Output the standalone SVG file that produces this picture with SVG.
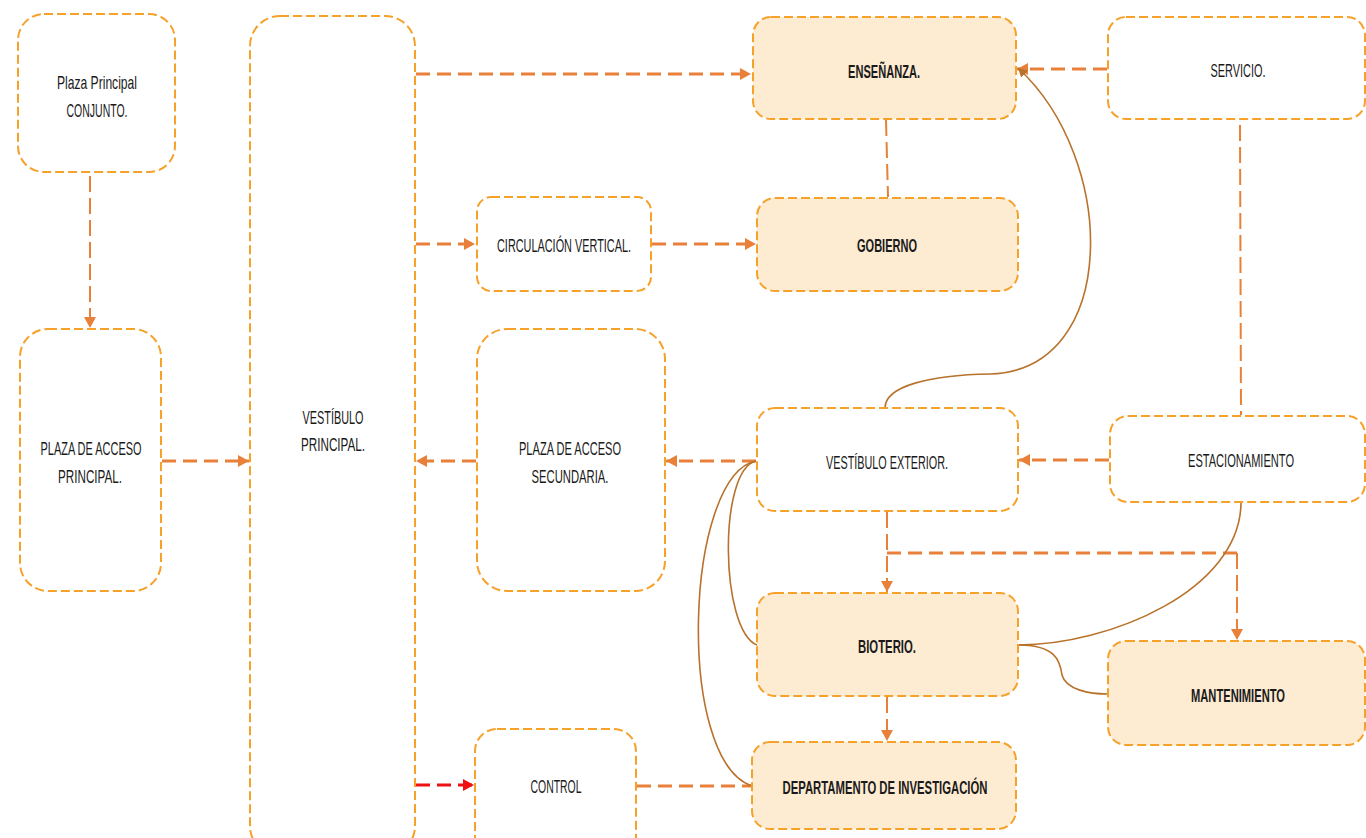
<svg xmlns="http://www.w3.org/2000/svg" width="1366" height="838" viewBox="0 0 1366 838">
<style>
.n{fill:#ffffff;stroke:#F5A12A;stroke-width:2;stroke-dasharray:9 4}
.h{fill:#FDEBD2}
.t{font-family:"Liberation Sans",Arial,sans-serif;font-size:19px;fill:#1a1a1a;text-anchor:middle}
.b{font-weight:bold}
.c{fill:none;stroke:#E8803A;stroke-width:3;stroke-dasharray:14 7}
.ct{fill:none;stroke:#E8803A;stroke-width:2;stroke-dasharray:16 6}
.r{fill:none;stroke:#EE1111;stroke-width:3;stroke-dasharray:14 7}
.cv{fill:none;stroke:#B8722C;stroke-width:1.6}
</style>
<defs>
<marker id="a" markerUnits="userSpaceOnUse" markerWidth="12" markerHeight="12" refX="11" refY="6" orient="auto"><path d="M0,0 L11,6 L0,12 z" fill="#E8803A"/></marker>
<marker id="ar" markerUnits="userSpaceOnUse" markerWidth="12" markerHeight="12" refX="11" refY="6" orient="auto"><path d="M0,0 L11,6 L0,12 z" fill="#EE1111"/></marker>
<marker id="ab" markerUnits="userSpaceOnUse" markerWidth="10" markerHeight="10" refX="9" refY="5" orient="auto"><path d="M0,0 L9,5 L0,10 z" fill="#B8722C"/></marker>
</defs>
<rect width="1366" height="838" fill="#ffffff"/>

<g id="connectors">
<path class="ct" d="M90,176 L90,328" marker-end="url(#a)"/>
<path class="c" d="M162,461 L249,461" marker-end="url(#a)"/>
<path class="c" d="M416,74 L751,74" marker-end="url(#a)"/>
<path class="c" d="M416,244 L475,244" marker-end="url(#a)"/>
<path class="c" d="M652,244 L756,244" marker-end="url(#a)"/>
<path class="ct" d="M886,120 L888,197"/>
<path class="c" d="M1107,69 L1017,69" marker-end="url(#a)"/>
<path class="ct" d="M1240,125 L1241,415"/>
<path class="c" d="M1109,460 L1019,460" marker-end="url(#a)"/>
<path class="c" d="M756,461 L666,461" marker-end="url(#a)"/>
<path class="c" d="M476,461 L416,461" marker-end="url(#a)"/>
<path class="ct" d="M887,512 L887,592" marker-end="url(#a)"/>
<path class="c" d="M887,553 L1237,553"/>
<path class="ct" d="M1237,553 L1237,640" marker-end="url(#a)"/>
<path class="ct" d="M887,697 L887,741" marker-end="url(#a)"/>
<path class="r" d="M416,785 L474,785" marker-end="url(#ar)"/>
<path class="c" d="M637,786 L752,786"/>
<path class="cv" d="M885,408 C885,386 930,375 990,374 C1120,370 1118,160 1018,68" marker-end="url(#ab)"/>
<path class="cv" d="M756,461 C718,470 720,630 757,645"/>
<path class="cv" d="M756,461 C685,475 675,760 752,786"/>
<path class="cv" d="M1241,503 C1240,590 1110,645 1018,645"/>
<path class="cv" d="M1018,645 C1055,645 1060,660 1062,675 C1066,690 1090,694 1108,694"/>
</g>

<g id="plaza-principal-conjunto">
<rect class="n" x="18" y="14" width="157" height="158" rx="26"/>
<text class="t" x="97" y="89" textLength="80" lengthAdjust="spacingAndGlyphs">Plaza Principal</text>
<text class="t" x="97" y="117" textLength="61" lengthAdjust="spacingAndGlyphs">CONJUNTO.</text>
</g>
<g id="vestibulo-principal">
<rect class="n" x="250" y="16" width="165" height="840" rx="30"/>
<text class="t" x="333" y="424" textLength="61" lengthAdjust="spacingAndGlyphs">VESTÍBULO</text>
<text class="t" x="333" y="451" textLength="64" lengthAdjust="spacingAndGlyphs">PRINCIPAL.</text>
</g>
<g id="plaza-acceso-principal">
<rect class="n" x="20" y="329" width="141" height="262" rx="28"/>
<text class="t" x="91" y="455" textLength="101" lengthAdjust="spacingAndGlyphs">PLAZA DE ACCESO</text>
<text class="t" x="90" y="483" textLength="64" lengthAdjust="spacingAndGlyphs">PRINCIPAL.</text>
</g>
<g id="ensenanza">
<rect class="n h" x="753" y="17" width="263" height="102" rx="18"/>
<text class="t b" x="884" y="78" textLength="72" lengthAdjust="spacingAndGlyphs">ENSEÑANZA.</text>
</g>
<g id="servicio">
<rect class="n" x="1108" y="17" width="257" height="102" rx="18"/>
<text class="t" x="1238" y="77" textLength="55" lengthAdjust="spacingAndGlyphs">SERVICIO.</text>
</g>
<g id="circulacion-vertical">
<rect class="n" x="477" y="197" width="174" height="94" rx="14"/>
<text class="t" x="564" y="252" textLength="134" lengthAdjust="spacingAndGlyphs">CIRCULACIÓN VERTICAL.</text>
</g>
<g id="gobierno">
<rect class="n h" x="757" y="198" width="261" height="93" rx="18"/>
<text class="t b" x="887" y="252" textLength="60" lengthAdjust="spacingAndGlyphs">GOBIERNO</text>
</g>
<g id="plaza-acceso-secundaria">
<rect class="n" x="477" y="329" width="188" height="262" rx="30"/>
<text class="t" x="570" y="455" textLength="102" lengthAdjust="spacingAndGlyphs">PLAZA DE ACCESO</text>
<text class="t" x="570" y="483" textLength="77" lengthAdjust="spacingAndGlyphs">SECUNDARIA.</text>
</g>
<g id="vestibulo-exterior">
<rect class="n" x="757" y="408" width="261" height="103" rx="18"/>
<text class="t" x="887" y="469" textLength="122" lengthAdjust="spacingAndGlyphs">VESTÍBULO EXTERIOR.</text>
</g>
<g id="estacionamiento">
<rect class="n" x="1110" y="416" width="255" height="86" rx="18"/>
<text class="t" x="1241" y="467" textLength="106" lengthAdjust="spacingAndGlyphs">ESTACIONAMIENTO</text>
</g>
<g id="bioterio">
<rect class="n h" x="757" y="593" width="261" height="103" rx="18"/>
<text class="t b" x="887" y="653" textLength="58" lengthAdjust="spacingAndGlyphs">BIOTERIO.</text>
</g>
<g id="mantenimiento">
<rect class="n h" x="1108" y="641" width="257" height="104" rx="18"/>
<text class="t b" x="1238" y="702" textLength="94" lengthAdjust="spacingAndGlyphs">MANTENIMIENTO</text>
</g>
<g id="control">
<rect class="n" x="475" y="729" width="161" height="130" rx="22"/>
<text class="t" x="556" y="793" textLength="51" lengthAdjust="spacingAndGlyphs">CONTROL</text>
</g>
<g id="departamento-investigacion">
<rect class="n h" x="752" y="742" width="264" height="87" rx="18"/>
<text class="t b" x="885" y="794" textLength="205" lengthAdjust="spacingAndGlyphs">DEPARTAMENTO DE INVESTIGACIÓN</text>
</g>
</svg>
